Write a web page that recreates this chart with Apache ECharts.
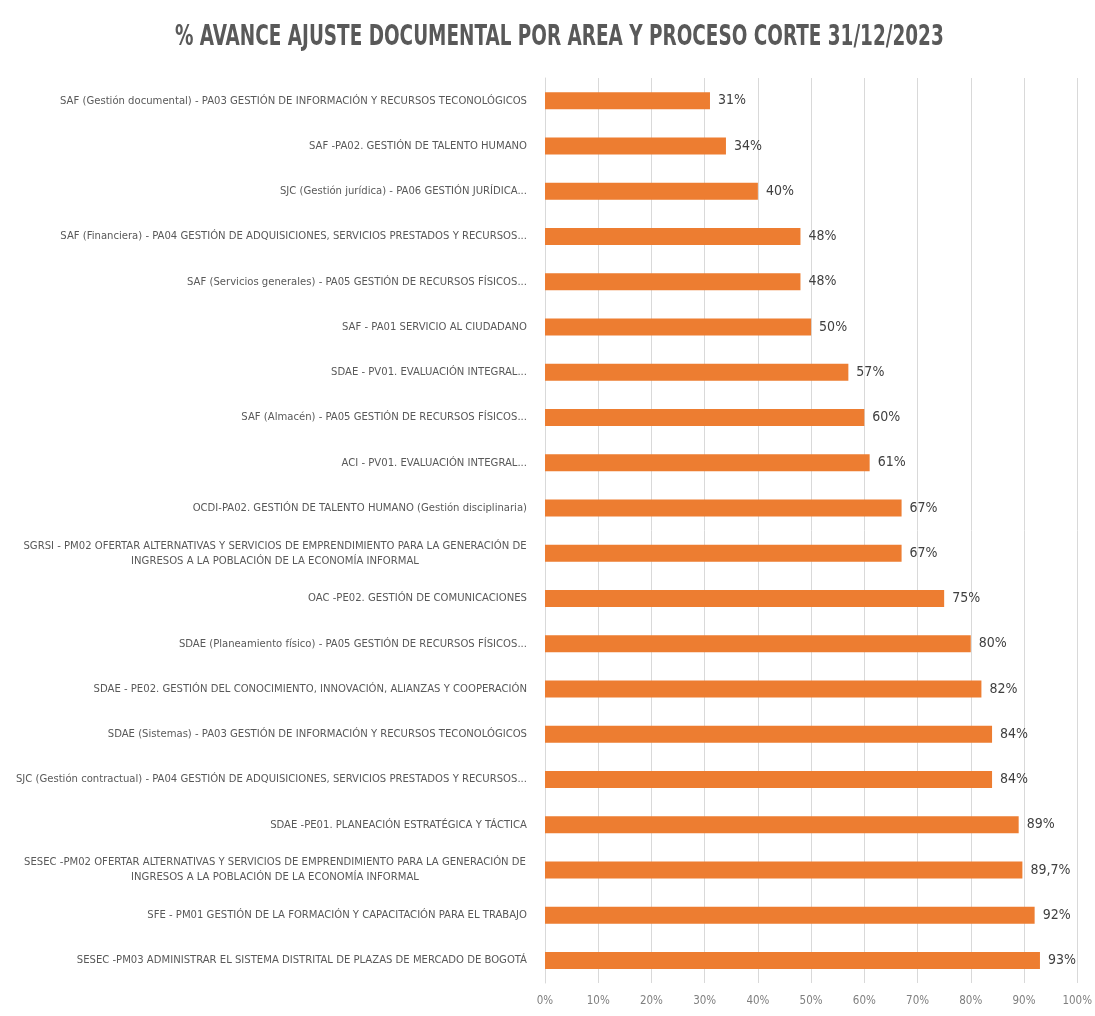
<!DOCTYPE html>
<html>
<head>
<meta charset="utf-8">
<title>% Avance ajuste documental</title>
<script src="https://cdn.jsdelivr.net/npm/echarts@6/dist/echarts.min.js"></script>
<style>
  html, body { margin: 0; padding: 0; background: #fff; }
  #chart { width: 1095px; height: 1016px; }
</style>
</head>
<body>
<div id="chart"></div>
<script>
// areas / procesos (de arriba hacia abajo)
var categorias = [
  "SAF (Gestión documental) - PA03 GESTIÓN DE INFORMACIÓN Y RECURSOS TECONOLÓGICOS",
  "SAF -PA02. GESTIÓN DE TALENTO HUMANO",
  "SJC (Gestión jurídica) - PA06 GESTIÓN JURÍDICA...",
  "SAF (Financiera) - PA04 GESTIÓN DE ADQUISICIONES, SERVICIOS PRESTADOS Y RECURSOS...",
  "SAF (Servicios generales) - PA05 GESTIÓN DE RECURSOS FÍSICOS...",
  "SAF - PA01 SERVICIO AL CIUDADANO",
  "SDAE - PV01. EVALUACIÓN INTEGRAL...",
  "SAF (Almacén) - PA05 GESTIÓN DE RECURSOS FÍSICOS...",
  "ACI - PV01. EVALUACIÓN INTEGRAL...",
  "OCDI-PA02. GESTIÓN DE TALENTO HUMANO (Gestión disciplinaria)",
  "SGRSI - PM02 OFERTAR ALTERNATIVAS Y SERVICIOS DE EMPRENDIMIENTO PARA LA GENERACIÓN DE\nINGRESOS A LA POBLACIÓN DE LA ECONOMÍA INFORMAL",
  "OAC -PE02. GESTIÓN DE COMUNICACIONES",
  "SDAE (Planeamiento físico) - PA05 GESTIÓN DE RECURSOS FÍSICOS...",
  "SDAE - PE02. GESTIÓN DEL CONOCIMIENTO, INNOVACIÓN, ALIANZAS Y COOPERACIÓN",
  "SDAE (Sistemas) - PA03 GESTIÓN DE INFORMACIÓN Y RECURSOS TECONOLÓGICOS",
  "SJC (Gestión contractual) - PA04 GESTIÓN DE ADQUISICIONES, SERVICIOS PRESTADOS Y RECURSOS...",
  "SDAE -PE01. PLANEACIÓN ESTRATÉGICA Y TÁCTICA",
  "SESEC -PM02 OFERTAR ALTERNATIVAS Y SERVICIOS DE EMPRENDIMIENTO PARA LA GENERACIÓN DE\nINGRESOS A LA POBLACIÓN DE LA ECONOMÍA INFORMAL",
  "SFE - PM01 GESTIÓN DE LA FORMACIÓN Y CAPACITACIÓN PARA EL TRABAJO",
  "SESEC -PM03 ADMINISTRAR EL SISTEMA DISTRITAL DE PLAZAS DE MERCADO DE BOGOTÁ"
];

// % avance
var avance = [31, 34, 40, 48, 48, 50, 57, 60, 61, 67, 67, 75, 80, 82, 84, 84, 89, 89.7, 92, 93];

// eje x
var ticksX = [0, 10, 20, 30, 40, 50, 60, 70, 80, 90, 100];

var titulo = "% AVANCE AJUSTE DOCUMENTAL POR AREA Y PROCESO CORTE 31/12/2023";

var fuente = "'Liberation Sans Narrow', 'DejaVu Sans Condensed', sans-serif";
var tamEtiq = 11.2;

// ancho de una linea de texto con la fuente de las etiquetas
function anchoTexto(txt) {
  var ctx = document.createElement("canvas").getContext("2d");
  ctx.font = tamEtiq + "px " + fuente;
  return Math.ceil(ctx.measureText(txt).width);
}

// ancho fijo para centrar la segunda linea debajo de la primera
var anchoLinea = 0;
categorias.forEach(function (c) {
  var p = c.split("\n");
  if (p.length > 1) anchoLinea = Math.max(anchoLinea, anchoTexto(p[0]));
});

var chart = echarts.init(document.getElementById("chart"));

chart.setOption({
  backgroundColor: "#ffffff",
  animation: false,
  graphic: [{
    // titulo comprimido (fuente condensada tipo Calibri)
    type: "text",
    x: 175,
    y: 37,
    scaleX: 0.706,
    style: {
      text: titulo,
      font: "bold 29px " + fuente,
      fill: "#595959",
      textAlign: "left",
      textVerticalAlign: "middle"
    }
  }],
  grid: {
    left: 545,
    right: 15,
    top: 78,
    bottom: 33,
    containLabel: false
  },
  xAxis: {
    type: "value",
    min: ticksX[0],
    max: ticksX[ticksX.length - 1],
    interval: 10,
    axisLine: { show: false },
    axisTick: { show: false },
    axisLabel: {
      formatter: "{value}%",
      color: "#7f7f7f",
      fontFamily: fuente,
      fontSize: 11.5,
      margin: 12
    },
    splitLine: { lineStyle: { color: "#d9d9d9", width: 1 } }
  },
  yAxis: {
    type: "category",
    inverse: true,
    data: categorias,
    axisTick: { show: false },
    axisLine: { show: true, lineStyle: { color: "#d9d9d9" } },
    axisLabel: {
      margin: 18,
      color: "#595959",
      fontFamily: fuente,
      fontSize: tamEtiq,
      lineHeight: 15,
      formatter: function (val) {
        var partes = val.split("\n");
        if (partes.length < 2) return val;
        return "{a|" + partes[0] + "}\n{b|" + partes[1] + "}";
      },
      rich: {
        a: { fontFamily: fuente, fontSize: tamEtiq, color: "#595959", lineHeight: 15, width: anchoLinea, align: "center" },
        b: { fontFamily: fuente, fontSize: tamEtiq, color: "#595959", lineHeight: 15, width: anchoLinea, align: "center" }
      }
    }
  },
  series: [{
    type: "bar",
    data: avance,
    barWidth: 17,
    itemStyle: { color: "#ed7d31" },
    label: {
      show: true,
      position: "right",
      distance: 8,
      color: "#404040",
      fontFamily: fuente,
      fontSize: 14,
      formatter: function (p) {
        return String(p.value).replace(".", ",") + "%";
      }
    }
  }]
});
</script>
</body>
</html>
